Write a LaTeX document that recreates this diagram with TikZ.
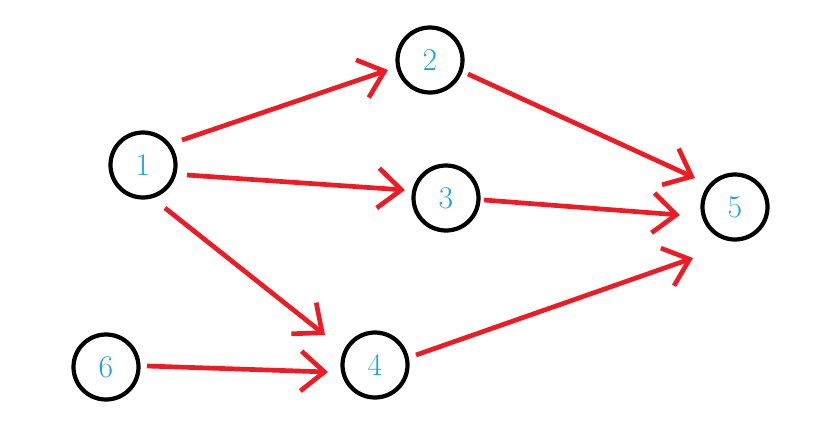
\documentclass[tikz,border=0pt]{standalone}
\usetikzlibrary{arrows.meta}
\definecolor{numblue}{RGB}{27,161,226}
\definecolor{edgered}{RGB}{237,28,36}
\begin{document}
\begin{tikzpicture}[x=0.03cm,y=-0.03cm,
  vert/.style={draw=black,line width=3.6pt,ellipse-free/.style={},circle,minimum size=1.95cm,inner sep=0pt,text=numblue,font=\fontsize{27}{27}\selectfont},
  edge/.style={draw=edgered,line width=4pt,-{Straight Barb[length=20pt,width=34pt,line width=4pt]}}]
\useasboundingbox (0,0) rectangle (830,438);
\node[vert] (n1) at (143,165) {1};
\node[vert] (n2) at (430,60) {2};
\node[vert] (n3) at (446,198) {3};
\node[vert] (n4) at (375,365) {4};
\node[vert] (n5) at (735,207) {5};
\node[vert] (n6) at (106,367) {6};
\coordinate (a12) at (182,140); \coordinate (b12) at (388,70);
\coordinate (a13) at (187,175); \coordinate (b13) at (405,190);
\coordinate (a14) at (165,208); \coordinate (b14) at (325,335);
\coordinate (a64) at (147,366); \coordinate (b64) at (328,372);
\coordinate (a25) at (468,74);  \coordinate (b25) at (695,178);
\coordinate (a35) at (484,200); \coordinate (b35) at (680,215);
\coordinate (a45) at (416,355); \coordinate (b45) at (693,258);
\draw[edge] (a12) -- (b12);
\draw[edge] (a13) -- (b13);
\draw[edge] (a14) -- (b14);
\draw[edge] (a64) -- (b64);
\draw[edge] (a25) -- (b25);
\draw[edge] (a35) -- (b35);
\draw[edge] (a45) -- (b45);
\end{tikzpicture}
\end{document}
